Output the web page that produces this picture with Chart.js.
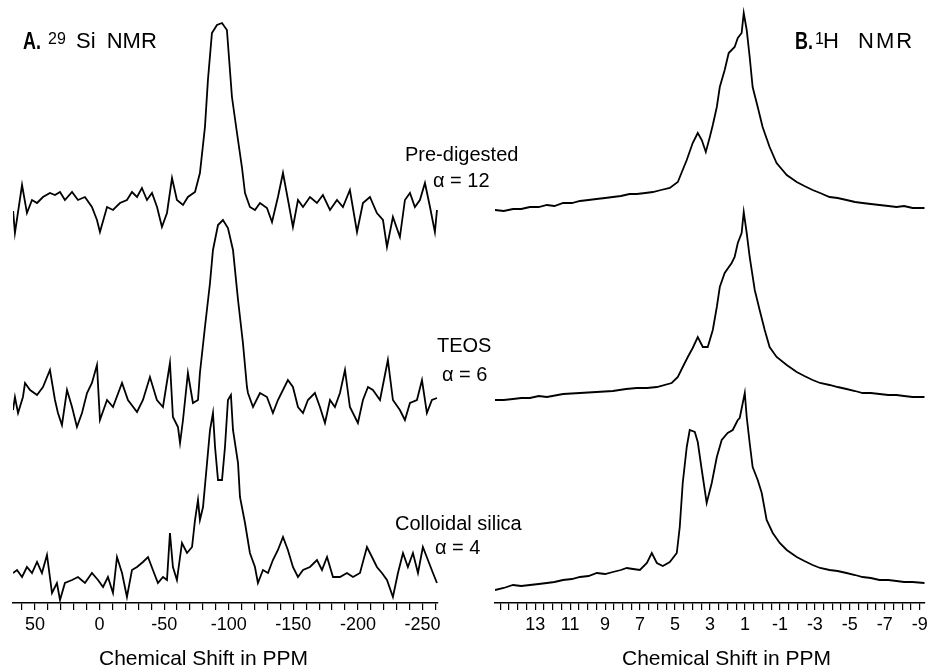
<!DOCTYPE html>
<html>
<head>
<meta charset="utf-8">
<script src="https://cdn.jsdelivr.net/npm/chart.js"></script>
<style>
  body { margin: 0; background: #fff; }
  #page { position: relative; width: 933px; height: 667px; overflow: hidden; font-family: 'Liberation Sans', Arial, sans-serif; color: #000; }
  canvas { position: absolute; top: 0; }
  #siChart { left: 0; }
  #hChart { left: 480px; }
  .txt { position: absolute; white-space: nowrap; font-size: 20px; line-height: 20px; }
  .head { position: absolute; white-space: nowrap; font-size: 22px; line-height: 22px; }
  .bold { position: absolute; white-space: nowrap; font-size: 23px; line-height: 23px; font-weight: bold; transform: scaleX(0.78); transform-origin: left top; }
  .sup { position: absolute; white-space: nowrap; font-size: 16px; line-height: 16px; }
  .axt { position: absolute; white-space: nowrap; font-size: 21px; line-height: 21px; }
</style>
</head>
<body>
<div id="page">
  <canvas id="siChart" width="470" height="667"></canvas>
  <canvas id="hChart" width="453" height="667"></canvas>

  <div class="bold" style="left:23px;top:30px">A.</div>
  <div class="sup" style="left:48px;top:31px">29</div>
  <div class="head" style="left:76px;top:30px;word-spacing:5px">Si NMR</div>

  <div class="bold" style="left:795px;top:30px">B.</div>
  <div class="sup" style="left:815px;top:31px">1</div>
  <div class="head" style="left:823px;top:30px;word-spacing:9px;letter-spacing:2px">H NMR</div>

  <div class="txt" style="left:405px;top:144px">Pre-digested</div>
  <div class="txt" style="left:433px;top:170px">&alpha; = 12</div>
  <div class="txt" style="left:437px;top:335px">TEOS</div>
  <div class="txt" style="left:442px;top:364px">&alpha; = 6</div>
  <div class="txt" style="left:395px;top:513px">Colloidal silica</div>
  <div class="txt" style="left:435px;top:537px">&alpha; = 4</div>

  <div class="axt" style="left:99px;top:647px">Chemical Shift in PPM</div>
  <div class="axt" style="left:622px;top:647px">Chemical Shift in PPM</div>
</div>
<script>
// 29Si spectra: chemical shift (ppm) and intensity above each trace's own baseline
const siPreX = [66.9,65.5,60.0,56.2,52.3,48.4,43.8,38.4,34.5,30.6,26.8,21.3,16.7,11.3,5.9,2.0,-0.3,-5.8,-10.4,-15.8,-21.2,-25.1,-29.0,-32.8,-36.7,-40.6,-44.5,-48.3,-52.2,-56.1,-59.9,-64.6,-68.4,-73.9,-77.7,-81.6,-83.9,-87.0,-90.9,-94.8,-98.6,-102.5,-106.4,-110.2,-112.6,-116.4,-120.3,-124.2,-129.6,-133.5,-138.1,-142.0,-145.9,-149.7,-153.6,-157.5,-162.9,-168.3,-172.9,-178.4,-183.8,-188.4,-193.8,-199.3,-203.9,-209.3,-214.7,-219.4,-222.5,-227.1,-232.5,-236.4,-240.3,-244.1,-248.0,-251.9,-255.8,-259.6,-261.2];
const siPreY = [-8,-30,18,-10,3,0,6,10,8,11,3,11,3,6,-4,-17,-29,-4,-7,0,3,11,6,15,3,10,-4,-24,-10,25,3,-2,6,11,30,76,123,170,178,180,173,106,70,36,10,-4,-7,0,-5,-19,6,30,3,-24,3,-4,6,0,8,-7,3,-4,13,-29,0,6,-10,-17,-44,-14,-34,3,10,-4,3,20,-4,-29,-7];

const siTeosX = [67.0,65.5,63.1,59.3,57.7,53.8,48.4,43.8,38.4,34.5,32.2,29.1,25.2,21.3,17.5,13.6,9.7,5.9,2.0,-0.3,-5.8,-10.4,-17.4,-22.0,-29.0,-33.6,-39.0,-44.4,-49.1,-54.5,-56.8,-60.7,-62.3,-64.6,-68.4,-72.3,-76.2,-77.7,-81.6,-85.5,-87.8,-91.7,-95.5,-99.4,-103.3,-107.2,-111.0,-114.1,-114.9,-118.8,-124.2,-129.6,-134.2,-138.1,-145.8,-149.7,-153.6,-157.5,-161.3,-166.7,-170.6,-174.5,-178.4,-182.2,-186.1,-190.0,-193.8,-200.0,-203.9,-207.8,-211.6,-217.1,-223.2,-227.1,-232.5,-236.4,-240.3,-245.7,-249.6,-253.4,-257.3,-261.2];
const siTeosY = [-10,3,-13,3,17,10,5,13,30,0,-13,-25,10,-7,-27,-13,7,17,35,-20,0,-7,17,0,-12,0,23,0,-7,37,-17,-27,-43,-20,27,-3,0,27,73,117,150,175,180,172,150,100,57,13,7,-7,7,3,-13,0,20,13,-7,-13,0,7,-7,-23,0,-7,7,30,-7,-23,0,13,10,0,40,0,-10,-20,-3,0,20,-13,0,2];

const siColX = [67.0,63.9,60.0,56.2,52.3,48.4,44.6,40.7,36.8,33.0,30.6,26.8,21.3,16.7,11.3,5.9,1.2,-2.7,-6.5,-10.4,-13.5,-17.4,-21.2,-25.1,-29.0,-33.6,-37.5,-41.3,-45.2,-49.1,-52.2,-54.5,-56.8,-59.9,-63.8,-67.7,-71.6,-73.9,-76.2,-77.7,-80.1,-83.2,-85.5,-87.8,-89.4,-91.7,-94.8,-97.1,-99.4,-101.7,-103.3,-107.2,-108.7,-112.6,-116.4,-120.3,-122.6,-126.5,-130.4,-134.2,-138.1,-142.0,-145.8,-149.7,-153.6,-157.5,-162.9,-168.3,-172.2,-176.1,-180.7,-186.1,-191.5,-196.2,-201.6,-207.0,-210.9,-214.7,-218.6,-222.5,-227.1,-231.0,-234.9,-238.7,-242.6,-246.5,-250.3,-254.2,-258.1,-261.2];
const siColY = [2,5,-2,8,2,13,2,20,-18,-8,-25,-8,-5,-2,-8,2,-5,-12,-2,-18,18,2,-22,5,8,13,18,5,-8,-2,-5,42,8,-5,32,22,28,55,75,55,68,112,145,162,128,95,95,128,175,180,145,112,78,52,22,8,-8,5,2,15,25,38,25,8,-2,5,8,15,5,18,-2,-2,2,-2,2,28,18,8,2,-5,-22,2,22,8,22,2,28,15,2,-8];

// 1H spectra
const hPreX = [15.30,14.80,14.27,13.80,13.30,12.80,12.33,11.90,11.40,10.90,10.44,9.95,9.50,9.00,8.56,8.10,7.60,7.19,6.70,6.27,5.80,5.30,4.84,4.61,4.33,3.99,3.70,3.47,3.24,3.01,2.84,2.61,2.44,2.16,1.93,1.59,1.41,1.19,1.07,0.90,0.73,0.56,0.27,-0.01,-0.41,-0.81,-1.39,-1.96,-2.40,-2.87,-3.30,-3.84,-4.30,-4.81,-5.30,-5.73,-6.20,-6.70,-7.20,-7.67,-8.10,-8.59,-9.27];
const hPreY = [2,1,3,3,5,5,7,6,9,9,11,12,13,14,15,16,18,18,19,20,22,24,30,40,52,69,79,72,60,75,87,105,125,142,159,165,174,179,199,182,155,125,105,85,65,49,37,30,26,22,19,15,14,12,10,9,8,7,6,5,6,4,4];

const hTeosX = [15.30,14.80,14.27,13.80,13.30,12.80,12.33,11.40,10.44,9.50,8.56,7.80,7.19,6.60,6.04,5.19,4.84,4.56,4.27,3.99,3.70,3.41,3.13,2.84,2.61,2.44,2.16,1.76,1.59,1.41,1.19,1.07,0.90,0.73,0.44,0.16,-0.13,-0.41,-0.81,-1.39,-1.96,-2.40,-2.87,-3.30,-3.84,-4.30,-4.81,-5.30,-5.73,-6.20,-6.70,-7.20,-7.67,-8.10,-8.59,-9.27];
const hTeosY = [2,2,3,4,4,6,5,8,9,10,11,13,14,14,15,19,25,35,45,54,65,55,55,72,95,115,129,139,145,159,169,190,169,145,112,92,72,55,45,37,30,26,22,19,17,15,13,11,9,9,8,7,7,6,5,5];

const hColX = [15.30,14.80,14.27,13.80,13.30,12.80,12.33,11.90,11.41,10.90,10.44,9.95,9.47,9.00,8.56,8.10,7.76,7.40,7.01,6.61,6.33,6.04,5.70,5.30,4.90,4.73,4.56,4.33,4.16,3.87,3.70,3.47,3.19,2.90,2.61,2.33,1.99,1.70,1.41,1.30,1.01,0.90,0.73,0.56,0.27,0.04,-0.24,-0.59,-0.99,-1.39,-1.96,-2.40,-2.87,-3.30,-3.84,-4.30,-4.81,-5.30,-5.73,-6.20,-6.70,-7.20,-7.67,-8.10,-8.59,-9.27];
const hColY = [2,4,7,6,7,8,9,10,12,13,15,16,19,18,20,22,24,23,22,29,39,29,26,30,39,65,109,145,162,160,150,122,89,109,135,152,159,162,172,174,199,175,149,125,112,99,72,59,49,42,35,31,27,24,22,21,19,17,15,14,12,12,11,10,10,9];

// vertical stacking of the traces (baseline of each trace, intensity units)
const siOffsets = { pre: 400, teos: 203, colloidal: 28 };
const hOffsets = { pre: 391, teos: 201, colloidal: 11 };
const stackTop = 603;

// axis ranges, tick steps
const siRange = { min: -262, max: 67, step: 10 };
const hRange = { min: -9.3, max: 15.3, step: 0.5 };
const siLabelled = v => v % 50 === 0;
const hLabelled = v => Number.isInteger(v) && Math.abs(v) % 2 === 1 && v <= 13;

function trace(xs, ys, offset) {
  return {
    data: xs.map((x, i) => ({ x: x, y: ys[i] + offset })),
    borderColor: '#000',
    borderWidth: 1.8,
    pointRadius: 0,
    tension: 0,
    fill: false
  };
}

function spectrumChart(id, datasets, range, labelled, pad) {
  return new Chart(document.getElementById(id), {
    type: 'line',
    data: { datasets: datasets },
    options: {
      responsive: false,
      animation: false,
      devicePixelRatio: 1,
      layout: { padding: pad },
      plugins: { legend: { display: false }, tooltip: { enabled: false } },
      scales: {
        x: {
          type: 'linear',
          reverse: true,
          min: range.min,
          max: range.max,
          border: { display: true, color: '#000', width: 1.5 },
          grid: { drawOnChartArea: false, drawTicks: true, tickLength: 7, color: '#000', lineWidth: 1.2 },
          ticks: {
            stepSize: range.step,
            autoSkip: false,
            includeBounds: false,
            maxRotation: 0,
            padding: 4,
            color: '#000',
            font: { family: "'Liberation Sans', Arial, sans-serif", size: 18 },
            callback: v => labelled(v) ? String(v) : ''
          }
        },
        y: { display: false, min: 0, max: stackTop }
      }
    }
  });
}

spectrumChart('siChart', [
  trace(siPreX, siPreY, siOffsets.pre),
  trace(siTeosX, siTeosY, siOffsets.teos),
  trace(siColX, siColY, siOffsets.colloidal)
], siRange, siLabelled, { left: 13, right: 32, top: 0, bottom: 27.4 });

spectrumChart('hChart', [
  trace(hPreX, hPreY, hOffsets.pre),
  trace(hTeosX, hTeosY, hOffsets.teos),
  trace(hColX, hColY, hOffsets.colloidal)
], hRange, hLabelled, { left: 15, right: 8, top: 0, bottom: 27.4 });
</script>
</body>
</html>
